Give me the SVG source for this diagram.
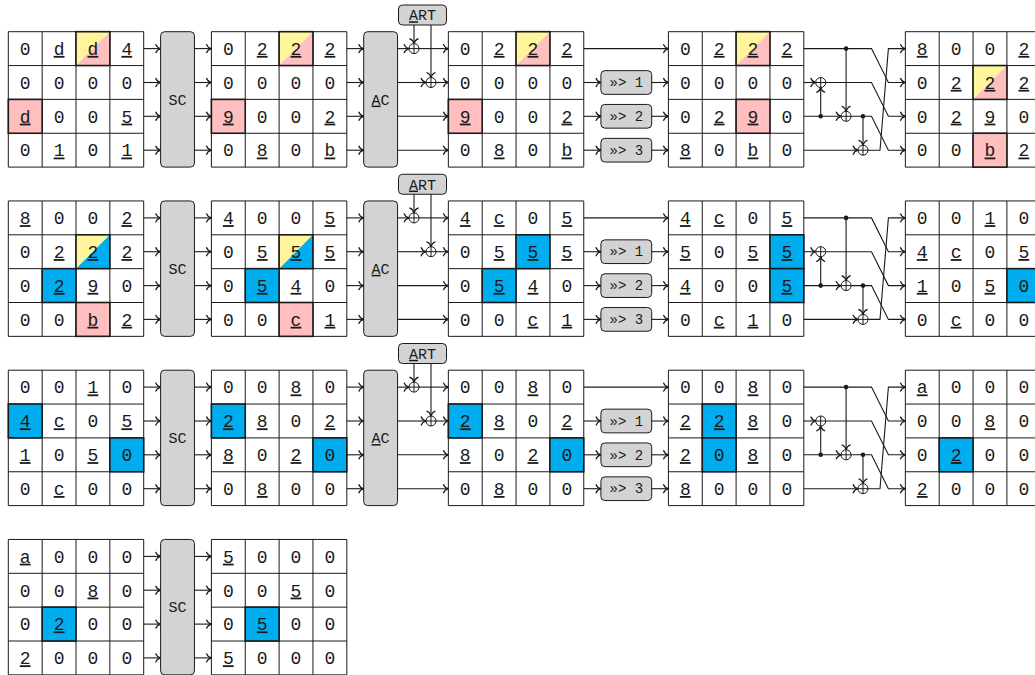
<svg xmlns="http://www.w3.org/2000/svg" xmlns:xlink="http://www.w3.org/1999/xlink" width="1035" height="675" viewBox="0 0 1035 675">
<style>
.m text{font-family:"Liberation Mono","DejaVu Sans Mono",monospace;font-size:18px;text-anchor:middle;fill:#1a1a1a}
.u{text-decoration:underline}
.y{fill:#FFF59D}.p{fill:#FFBFBF}.b{fill:#00AEEF}
.o{stroke:#1a1a1a;stroke-width:1.6}
.box{fill:#D3D3D3;stroke:#1a1a1a;stroke-width:1}
.lbl{font-family:"Liberation Mono","DejaVu Sans Mono",monospace;font-size:15px;text-anchor:middle;fill:#1a1a1a}
.sl{font-family:"Liberation Mono","DejaVu Sans Mono",monospace;font-size:14px;text-anchor:middle;fill:#1a1a1a}
#connectors path{fill:none;stroke:#1a1a1a;stroke-width:1.1;marker-end:url(#a)}
.dot{fill:#1a1a1a}
</style>
<defs>
<marker id="a" markerUnits="userSpaceOnUse" viewBox="-6 -5 7 10" refX="0" refY="0" markerWidth="7" markerHeight="10" orient="auto" overflow="visible">
<path d="M-5,-4.5C-4,-1.6 -1.2,-0.3 0,0C-1.2,0.3 -4,1.6 -5,4.5" fill="none" stroke="#1a1a1a" stroke-width="1.2"/>
</marker>
<path id="grid" d="M0,0H135.4V135.4H0ZM33.85,0V135.4M67.7,0V135.4M101.55,0V135.4M0,33.85H135.4M0,67.7H135.4M0,101.55H135.4" fill="none" stroke="#1a1a1a" stroke-width="1"/>
<g id="xor"><circle r="5" fill="#fff" stroke="#1a1a1a" stroke-width="1"/><path d="M-5,0H5M0,-5V5" stroke="#1a1a1a" stroke-width="1"/></g>
</defs>
<rect width="1035" height="675" fill="#fff"/>

<!-- ===== Block 1 ===== -->
<g id="b1m1" class="m" transform="translate(8.3,31.7)">
<rect width="135.4" height="135.4" fill="#fff"/><use href="#grid"/>
<polygon class="y" points="67.7,0 101.55,0 67.7,33.85"/><polygon class="p" points="101.55,0 101.55,33.85 67.7,33.85"/><rect class="o" fill="none" x="67.7" y="0" width="33.85" height="33.85"/>
<rect class="p o" x="0" y="67.7" width="33.85" height="33.85"/>
<text x="16.9" y="23.2">0</text><text x="50.8" y="23.2" class="u">d</text><text x="84.6" y="23.2" class="u">d</text><text x="118.5" y="23.2" class="u">4</text>
<text x="16.9" y="57.1">0</text><text x="50.8" y="57.1">0</text><text x="84.6" y="57.1">0</text><text x="118.5" y="57.1">0</text>
<text x="16.9" y="90.9" class="u">d</text><text x="50.8" y="90.9">0</text><text x="84.6" y="90.9">0</text><text x="118.5" y="90.9" class="u">5</text>
<text x="16.9" y="124.8">0</text><text x="50.8" y="124.8" class="u">1</text><text x="84.6" y="124.8">0</text><text x="118.5" y="124.8" class="u">1</text>
</g>
<g id="b1sc"><rect class="box" x="160.6" y="31.7" width="33.85" height="135.4" rx="4"/><text class="lbl" x="177.5" y="104.6">SC</text></g>
<g id="b1m2" class="m" transform="translate(211.4,31.7)">
<rect width="135.4" height="135.4" fill="#fff"/><use href="#grid"/>
<polygon class="y" points="67.7,0 101.55,0 67.7,33.85"/><polygon class="p" points="101.55,0 101.55,33.85 67.7,33.85"/><rect class="o" fill="none" x="67.7" y="0" width="33.85" height="33.85"/>
<rect class="p o" x="0" y="67.7" width="33.85" height="33.85"/>
<text x="16.9" y="23.2">0</text><text x="50.8" y="23.2" class="u">2</text><text x="84.6" y="23.2" class="u">2</text><text x="118.5" y="23.2" class="u">2</text>
<text x="16.9" y="57.1">0</text><text x="50.8" y="57.1">0</text><text x="84.6" y="57.1">0</text><text x="118.5" y="57.1">0</text>
<text x="16.9" y="90.9" class="u">9</text><text x="50.8" y="90.9">0</text><text x="84.6" y="90.9">0</text><text x="118.5" y="90.9" class="u">2</text>
<text x="16.9" y="124.8">0</text><text x="50.8" y="124.8" class="u">8</text><text x="84.6" y="124.8">0</text><text x="118.5" y="124.8" class="u">b</text>
</g>
<g id="b1ac"><rect class="box" x="363.7" y="31.7" width="33.85" height="135.4" rx="4"/><text class="lbl" x="380.6" y="104.6"><tspan class="u">A</tspan>C</text></g>
<g id="b1art"><rect class="box" x="398.5" y="5" width="48" height="20" rx="4"/><text class="lbl" x="422.5" y="20.3"><tspan class="u">A</tspan>RT</text></g>
<g id="b1m3" class="m" transform="translate(448.35,31.7)">
<rect width="135.4" height="135.4" fill="#fff"/><use href="#grid"/>
<polygon class="y" points="67.7,0 101.55,0 67.7,33.85"/><polygon class="p" points="101.55,0 101.55,33.85 67.7,33.85"/><rect class="o" fill="none" x="67.7" y="0" width="33.85" height="33.85"/>
<rect class="p o" x="0" y="67.7" width="33.85" height="33.85"/>
<text x="16.9" y="23.2">0</text><text x="50.8" y="23.2" class="u">2</text><text x="84.6" y="23.2" class="u">2</text><text x="118.5" y="23.2" class="u">2</text>
<text x="16.9" y="57.1">0</text><text x="50.8" y="57.1">0</text><text x="84.6" y="57.1">0</text><text x="118.5" y="57.1">0</text>
<text x="16.9" y="90.9" class="u">9</text><text x="50.8" y="90.9">0</text><text x="84.6" y="90.9">0</text><text x="118.5" y="90.9" class="u">2</text>
<text x="16.9" y="124.8">0</text><text x="50.8" y="124.8" class="u">8</text><text x="84.6" y="124.8">0</text><text x="118.5" y="124.8" class="u">b</text>
</g>
<g id="b1s1"><rect class="box" x="600.9" y="70.65" width="50.8" height="23.7" rx="4"/><text class="sl" x="626.3" y="87.2">»&gt; 1</text></g>
<g id="b1s2"><rect class="box" x="600.9" y="104.45" width="50.8" height="23.7" rx="4"/><text class="sl" x="626.3" y="121">»&gt; 2</text></g>
<g id="b1s3"><rect class="box" x="600.9" y="138.35" width="50.8" height="23.7" rx="4"/><text class="sl" x="626.3" y="154.9">»&gt; 3</text></g>
<g id="b1m4" class="m" transform="translate(668.4,31.7)">
<rect width="135.4" height="135.4" fill="#fff"/><use href="#grid"/>
<polygon class="y" points="67.7,0 101.55,0 67.7,33.85"/><polygon class="p" points="101.55,0 101.55,33.85 67.7,33.85"/><rect class="o" fill="none" x="67.7" y="0" width="33.85" height="33.85"/>
<rect class="p o" x="67.7" y="67.7" width="33.85" height="33.85"/>
<text x="16.9" y="23.2">0</text><text x="50.8" y="23.2" class="u">2</text><text x="84.6" y="23.2" class="u">2</text><text x="118.5" y="23.2" class="u">2</text>
<text x="16.9" y="57.1">0</text><text x="50.8" y="57.1">0</text><text x="84.6" y="57.1">0</text><text x="118.5" y="57.1">0</text>
<text x="16.9" y="90.9">0</text><text x="50.8" y="90.9" class="u">2</text><text x="84.6" y="90.9" class="u">9</text><text x="118.5" y="90.9">0</text>
<text x="16.9" y="124.8" class="u">8</text><text x="50.8" y="124.8">0</text><text x="84.6" y="124.8" class="u">b</text><text x="118.5" y="124.8">0</text>
</g>
<g id="b1m5" class="m" transform="translate(905.35,31.7)">
<rect width="135.4" height="135.4" fill="#fff"/><use href="#grid"/>
<polygon class="y" points="67.7,33.85 101.55,33.85 67.7,67.7"/><polygon class="p" points="101.55,33.85 101.55,67.7 67.7,67.7"/><rect class="o" fill="none" x="67.7" y="33.85" width="33.85" height="33.85"/>
<rect class="p o" x="67.7" y="101.55" width="33.85" height="33.85"/>
<text x="16.9" y="23.2" class="u">8</text><text x="50.8" y="23.2">0</text><text x="84.6" y="23.2">0</text><text x="118.5" y="23.2" class="u">2</text>
<text x="16.9" y="57.1">0</text><text x="50.8" y="57.1" class="u">2</text><text x="84.6" y="57.1" class="u">2</text><text x="118.5" y="57.1" class="u">2</text>
<text x="16.9" y="90.9">0</text><text x="50.8" y="90.9" class="u">2</text><text x="84.6" y="90.9" class="u">9</text><text x="118.5" y="90.9">0</text>
<text x="16.9" y="124.8">0</text><text x="50.8" y="124.8">0</text><text x="84.6" y="124.8" class="u">b</text><text x="118.5" y="124.8" class="u">2</text>
</g>

<!-- ===== Block 2 ===== -->
<g id="b2m1" class="m" transform="translate(8.3,200.95)">
<rect width="135.4" height="135.4" fill="#fff"/><use href="#grid"/>
<polygon class="y" points="67.7,33.85 101.55,33.85 67.7,67.7"/><polygon class="b" points="101.55,33.85 101.55,67.7 67.7,67.7"/><rect class="o" fill="none" x="67.7" y="33.85" width="33.85" height="33.85"/>
<rect class="b o" x="33.85" y="67.7" width="33.85" height="33.85"/>
<rect class="p o" x="67.7" y="101.55" width="33.85" height="33.85"/>
<text x="16.9" y="23.2" class="u">8</text><text x="50.8" y="23.2">0</text><text x="84.6" y="23.2">0</text><text x="118.5" y="23.2" class="u">2</text>
<text x="16.9" y="57.1">0</text><text x="50.8" y="57.1" class="u">2</text><text x="84.6" y="57.1" class="u">2</text><text x="118.5" y="57.1" class="u">2</text>
<text x="16.9" y="90.9">0</text><text x="50.8" y="90.9" class="u">2</text><text x="84.6" y="90.9" class="u">9</text><text x="118.5" y="90.9">0</text>
<text x="16.9" y="124.8">0</text><text x="50.8" y="124.8">0</text><text x="84.6" y="124.8" class="u">b</text><text x="118.5" y="124.8" class="u">2</text>
</g>
<g id="b2sc"><rect class="box" x="160.6" y="200.95" width="33.85" height="135.4" rx="4"/><text class="lbl" x="177.5" y="273.85">SC</text></g>
<g id="b2m2" class="m" transform="translate(211.4,200.95)">
<rect width="135.4" height="135.4" fill="#fff"/><use href="#grid"/>
<polygon class="y" points="67.7,33.85 101.55,33.85 67.7,67.7"/><polygon class="b" points="101.55,33.85 101.55,67.7 67.7,67.7"/><rect class="o" fill="none" x="67.7" y="33.85" width="33.85" height="33.85"/>
<rect class="b o" x="33.85" y="67.7" width="33.85" height="33.85"/>
<rect class="p o" x="67.7" y="101.55" width="33.85" height="33.85"/>
<text x="16.9" y="23.2" class="u">4</text><text x="50.8" y="23.2">0</text><text x="84.6" y="23.2">0</text><text x="118.5" y="23.2" class="u">5</text>
<text x="16.9" y="57.1">0</text><text x="50.8" y="57.1" class="u">5</text><text x="84.6" y="57.1" class="u">5</text><text x="118.5" y="57.1" class="u">5</text>
<text x="16.9" y="90.9">0</text><text x="50.8" y="90.9" class="u">5</text><text x="84.6" y="90.9" class="u">4</text><text x="118.5" y="90.9">0</text>
<text x="16.9" y="124.8">0</text><text x="50.8" y="124.8">0</text><text x="84.6" y="124.8" class="u">c</text><text x="118.5" y="124.8" class="u">1</text>
</g>
<g id="b2ac"><rect class="box" x="363.7" y="200.95" width="33.85" height="135.4" rx="4"/><text class="lbl" x="380.6" y="273.85"><tspan class="u">A</tspan>C</text></g>
<g id="b2art"><rect class="box" x="398.5" y="174.25" width="48" height="20" rx="4"/><text class="lbl" x="422.5" y="189.55"><tspan class="u">A</tspan>RT</text></g>
<g id="b2m3" class="m" transform="translate(448.35,200.95)">
<rect width="135.4" height="135.4" fill="#fff"/><use href="#grid"/>
<rect class="b o" x="67.7" y="33.85" width="33.85" height="33.85"/>
<rect class="b o" x="33.85" y="67.7" width="33.85" height="33.85"/>
<text x="16.9" y="23.2" class="u">4</text><text x="50.8" y="23.2" class="u">c</text><text x="84.6" y="23.2">0</text><text x="118.5" y="23.2" class="u">5</text>
<text x="16.9" y="57.1">0</text><text x="50.8" y="57.1" class="u">5</text><text x="84.6" y="57.1" class="u">5</text><text x="118.5" y="57.1" class="u">5</text>
<text x="16.9" y="90.9">0</text><text x="50.8" y="90.9" class="u">5</text><text x="84.6" y="90.9" class="u">4</text><text x="118.5" y="90.9">0</text>
<text x="16.9" y="124.8">0</text><text x="50.8" y="124.8">0</text><text x="84.6" y="124.8" class="u">c</text><text x="118.5" y="124.8" class="u">1</text>
</g>
<g id="b2s1"><rect class="box" x="600.9" y="239.85" width="50.8" height="23.7" rx="4"/><text class="sl" x="626.3" y="256.4">»&gt; 1</text></g>
<g id="b2s2"><rect class="box" x="600.9" y="273.75" width="50.8" height="23.7" rx="4"/><text class="sl" x="626.3" y="290.3">»&gt; 2</text></g>
<g id="b2s3"><rect class="box" x="600.9" y="307.55" width="50.8" height="23.7" rx="4"/><text class="sl" x="626.3" y="324.1">»&gt; 3</text></g>
<g id="b2m4" class="m" transform="translate(668.4,200.95)">
<rect width="135.4" height="135.4" fill="#fff"/><use href="#grid"/>
<rect class="b o" x="101.55" y="33.85" width="33.85" height="33.85"/>
<rect class="b o" x="101.55" y="67.7" width="33.85" height="33.85"/>
<text x="16.9" y="23.2" class="u">4</text><text x="50.8" y="23.2" class="u">c</text><text x="84.6" y="23.2">0</text><text x="118.5" y="23.2" class="u">5</text>
<text x="16.9" y="57.1" class="u">5</text><text x="50.8" y="57.1">0</text><text x="84.6" y="57.1" class="u">5</text><text x="118.5" y="57.1" class="u">5</text>
<text x="16.9" y="90.9" class="u">4</text><text x="50.8" y="90.9">0</text><text x="84.6" y="90.9">0</text><text x="118.5" y="90.9" class="u">5</text>
<text x="16.9" y="124.8">0</text><text x="50.8" y="124.8" class="u">c</text><text x="84.6" y="124.8" class="u">1</text><text x="118.5" y="124.8">0</text>
</g>
<g id="b2m5" class="m" transform="translate(905.35,200.95)">
<rect width="135.4" height="135.4" fill="#fff"/><use href="#grid"/>
<rect class="b o" x="101.55" y="67.7" width="33.85" height="33.85"/>
<text x="16.9" y="23.2">0</text><text x="50.8" y="23.2">0</text><text x="84.6" y="23.2" class="u">1</text><text x="118.5" y="23.2">0</text>
<text x="16.9" y="57.1" class="u">4</text><text x="50.8" y="57.1" class="u">c</text><text x="84.6" y="57.1">0</text><text x="118.5" y="57.1" class="u">5</text>
<text x="16.9" y="90.9" class="u">1</text><text x="50.8" y="90.9">0</text><text x="84.6" y="90.9" class="u">5</text><text x="118.5" y="90.9">0</text>
<text x="16.9" y="124.8">0</text><text x="50.8" y="124.8" class="u">c</text><text x="84.6" y="124.8">0</text><text x="118.5" y="124.8">0</text>
</g>

<!-- ===== Block 3 ===== -->
<g id="b3m1" class="m" transform="translate(8.3,370.2)">
<rect width="135.4" height="135.4" fill="#fff"/><use href="#grid"/>
<rect class="b o" x="0" y="33.85" width="33.85" height="33.85"/>
<rect class="b o" x="101.55" y="67.7" width="33.85" height="33.85"/>
<text x="16.9" y="23.2">0</text><text x="50.8" y="23.2">0</text><text x="84.6" y="23.2" class="u">1</text><text x="118.5" y="23.2">0</text>
<text x="16.9" y="57.1" class="u">4</text><text x="50.8" y="57.1" class="u">c</text><text x="84.6" y="57.1">0</text><text x="118.5" y="57.1" class="u">5</text>
<text x="16.9" y="90.9" class="u">1</text><text x="50.8" y="90.9">0</text><text x="84.6" y="90.9" class="u">5</text><text x="118.5" y="90.9">0</text>
<text x="16.9" y="124.8">0</text><text x="50.8" y="124.8" class="u">c</text><text x="84.6" y="124.8">0</text><text x="118.5" y="124.8">0</text>
</g>
<g id="b3sc"><rect class="box" x="160.6" y="370.2" width="33.85" height="135.4" rx="4"/><text class="lbl" x="177.5" y="443.1">SC</text></g>
<g id="b3m2" class="m" transform="translate(211.4,370.2)">
<rect width="135.4" height="135.4" fill="#fff"/><use href="#grid"/>
<rect class="b o" x="0" y="33.85" width="33.85" height="33.85"/>
<rect class="b o" x="101.55" y="67.7" width="33.85" height="33.85"/>
<text x="16.9" y="23.2">0</text><text x="50.8" y="23.2">0</text><text x="84.6" y="23.2" class="u">8</text><text x="118.5" y="23.2">0</text>
<text x="16.9" y="57.1" class="u">2</text><text x="50.8" y="57.1" class="u">8</text><text x="84.6" y="57.1">0</text><text x="118.5" y="57.1" class="u">2</text>
<text x="16.9" y="90.9" class="u">8</text><text x="50.8" y="90.9">0</text><text x="84.6" y="90.9" class="u">2</text><text x="118.5" y="90.9">0</text>
<text x="16.9" y="124.8">0</text><text x="50.8" y="124.8" class="u">8</text><text x="84.6" y="124.8">0</text><text x="118.5" y="124.8">0</text>
</g>
<g id="b3ac"><rect class="box" x="363.7" y="370.2" width="33.85" height="135.4" rx="4"/><text class="lbl" x="380.6" y="443.1"><tspan class="u">A</tspan>C</text></g>
<g id="b3art"><rect class="box" x="398.5" y="343.5" width="48" height="20" rx="4"/><text class="lbl" x="422.5" y="358.8"><tspan class="u">A</tspan>RT</text></g>
<g id="b3m3" class="m" transform="translate(448.35,370.2)">
<rect width="135.4" height="135.4" fill="#fff"/><use href="#grid"/>
<rect class="b o" x="0" y="33.85" width="33.85" height="33.85"/>
<rect class="b o" x="101.55" y="67.7" width="33.85" height="33.85"/>
<text x="16.9" y="23.2">0</text><text x="50.8" y="23.2">0</text><text x="84.6" y="23.2" class="u">8</text><text x="118.5" y="23.2">0</text>
<text x="16.9" y="57.1" class="u">2</text><text x="50.8" y="57.1" class="u">8</text><text x="84.6" y="57.1">0</text><text x="118.5" y="57.1" class="u">2</text>
<text x="16.9" y="90.9" class="u">8</text><text x="50.8" y="90.9">0</text><text x="84.6" y="90.9" class="u">2</text><text x="118.5" y="90.9">0</text>
<text x="16.9" y="124.8">0</text><text x="50.8" y="124.8" class="u">8</text><text x="84.6" y="124.8">0</text><text x="118.5" y="124.8">0</text>
</g>
<g id="b3s1"><rect class="box" x="600.9" y="409.15" width="50.8" height="23.7" rx="4"/><text class="sl" x="626.3" y="425.7">»&gt; 1</text></g>
<g id="b3s2"><rect class="box" x="600.9" y="442.95" width="50.8" height="23.7" rx="4"/><text class="sl" x="626.3" y="459.5">»&gt; 2</text></g>
<g id="b3s3"><rect class="box" x="600.9" y="476.85" width="50.8" height="23.7" rx="4"/><text class="sl" x="626.3" y="493.4">»&gt; 3</text></g>
<g id="b3m4" class="m" transform="translate(668.4,370.2)">
<rect width="135.4" height="135.4" fill="#fff"/><use href="#grid"/>
<rect class="b o" x="33.85" y="33.85" width="33.85" height="33.85"/>
<rect class="b o" x="33.85" y="67.7" width="33.85" height="33.85"/>
<text x="16.9" y="23.2">0</text><text x="50.8" y="23.2">0</text><text x="84.6" y="23.2" class="u">8</text><text x="118.5" y="23.2">0</text>
<text x="16.9" y="57.1" class="u">2</text><text x="50.8" y="57.1" class="u">2</text><text x="84.6" y="57.1" class="u">8</text><text x="118.5" y="57.1">0</text>
<text x="16.9" y="90.9" class="u">2</text><text x="50.8" y="90.9">0</text><text x="84.6" y="90.9" class="u">8</text><text x="118.5" y="90.9">0</text>
<text x="16.9" y="124.8" class="u">8</text><text x="50.8" y="124.8">0</text><text x="84.6" y="124.8">0</text><text x="118.5" y="124.8">0</text>
</g>
<g id="b3m5" class="m" transform="translate(905.35,370.2)">
<rect width="135.4" height="135.4" fill="#fff"/><use href="#grid"/>
<rect class="b o" x="33.85" y="67.7" width="33.85" height="33.85"/>
<text x="16.9" y="23.2" class="u">a</text><text x="50.8" y="23.2">0</text><text x="84.6" y="23.2">0</text><text x="118.5" y="23.2">0</text>
<text x="16.9" y="57.1">0</text><text x="50.8" y="57.1">0</text><text x="84.6" y="57.1" class="u">8</text><text x="118.5" y="57.1">0</text>
<text x="16.9" y="90.9">0</text><text x="50.8" y="90.9" class="u">2</text><text x="84.6" y="90.9">0</text><text x="118.5" y="90.9">0</text>
<text x="16.9" y="124.8" class="u">2</text><text x="50.8" y="124.8">0</text><text x="84.6" y="124.8">0</text><text x="118.5" y="124.8">0</text>
</g>

<!-- ===== Block 4 ===== -->
<g id="b4m1" class="m" transform="translate(8.3,539.45)">
<rect width="135.4" height="135.4" fill="#fff"/><use href="#grid"/>
<rect class="b o" x="33.85" y="67.7" width="33.85" height="33.85"/>
<text x="16.9" y="23.2" class="u">a</text><text x="50.8" y="23.2">0</text><text x="84.6" y="23.2">0</text><text x="118.5" y="23.2">0</text>
<text x="16.9" y="57.1">0</text><text x="50.8" y="57.1">0</text><text x="84.6" y="57.1" class="u">8</text><text x="118.5" y="57.1">0</text>
<text x="16.9" y="90.9">0</text><text x="50.8" y="90.9" class="u">2</text><text x="84.6" y="90.9">0</text><text x="118.5" y="90.9">0</text>
<text x="16.9" y="124.8" class="u">2</text><text x="50.8" y="124.8">0</text><text x="84.6" y="124.8">0</text><text x="118.5" y="124.8">0</text>
</g>
<g id="b4sc"><rect class="box" x="160.6" y="539.45" width="33.85" height="135.4" rx="4"/><text class="lbl" x="177.5" y="612.35">SC</text></g>
<g id="b4m2" class="m" transform="translate(211.4,539.45)">
<rect width="135.4" height="135.4" fill="#fff"/><use href="#grid"/>
<rect class="b o" x="33.85" y="67.7" width="33.85" height="33.85"/>
<text x="16.9" y="23.2" class="u">5</text><text x="50.8" y="23.2">0</text><text x="84.6" y="23.2">0</text><text x="118.5" y="23.2">0</text>
<text x="16.9" y="57.1">0</text><text x="50.8" y="57.1">0</text><text x="84.6" y="57.1" class="u">5</text><text x="118.5" y="57.1">0</text>
<text x="16.9" y="90.9">0</text><text x="50.8" y="90.9" class="u">5</text><text x="84.6" y="90.9">0</text><text x="118.5" y="90.9">0</text>
<text x="16.9" y="124.8" class="u">5</text><text x="50.8" y="124.8">0</text><text x="84.6" y="124.8">0</text><text x="118.5" y="124.8">0</text>
</g>

<!-- ===== Connectors ===== -->
<g id="connectors">
<!-- block 1 -->
<path d="M143.7,48.6H160.6"/><path d="M143.7,82.5H160.6"/><path d="M143.7,116.3H160.6"/><path d="M143.7,150.2H160.6"/>
<path d="M194.45,48.6H211.4"/><path d="M194.45,82.5H211.4"/><path d="M194.45,116.3H211.4"/><path d="M194.45,150.2H211.4"/>
<path d="M346.8,48.6H363.7"/><path d="M346.8,82.5H363.7"/><path d="M346.8,116.3H363.7"/><path d="M346.8,150.2H363.7"/>
<path d="M397.55,48.6H409"/><path d="M419,48.6H448.35"/>
<path d="M397.55,82.5H426"/><path d="M436,82.5H448.35"/>
<path d="M397.55,116.3H448.35"/><path d="M397.55,150.2H448.35"/>
<path d="M414,25V43.6"/><path d="M431,25V77.5"/>
<path d="M583.75,48.6H668.4"/>
<path d="M583.75,82.5H600.9"/><path d="M651.7,82.5H668.4"/>
<path d="M583.75,116.3H600.9"/><path d="M651.7,116.3H668.4"/>
<path d="M583.75,150.2H600.9"/><path d="M651.7,150.2H668.4"/>
<path d="M803.8,48.6H871.5L888.4,82.5H905.35"/>
<path d="M846.1,48.6V111.3"/>
<path d="M803.8,82.5H815.7"/>
<path d="M825.7,82.5H871.5L888.4,116.3H905.35"/>
<path d="M803.8,116.3H841.1"/>
<path d="M820.7,116.3V87.5"/>
<path d="M851.1,116.3H871.5L888.4,150.2H905.35"/>
<path d="M863,116.3V145.2"/>
<path d="M803.8,150.2H858"/>
<path d="M868,150.2H880L888.4,48.6H905.35"/>
<use href="#xor" x="414" y="48.6"/><use href="#xor" x="431" y="82.5"/>
<use href="#xor" x="820.7" y="82.5"/><use href="#xor" x="846.1" y="116.3"/><use href="#xor" x="863" y="150.2"/>
<circle class="dot" cx="846.1" cy="48.6" r="2.3"/><circle class="dot" cx="820.7" cy="116.3" r="2.3"/><circle class="dot" cx="863" cy="116.3" r="2.3"/>
<!-- block 2 -->
<path d="M143.7,217.9H160.6"/><path d="M143.7,251.7H160.6"/><path d="M143.7,285.6H160.6"/><path d="M143.7,319.4H160.6"/>
<path d="M194.45,217.9H211.4"/><path d="M194.45,251.7H211.4"/><path d="M194.45,285.6H211.4"/><path d="M194.45,319.4H211.4"/>
<path d="M346.8,217.9H363.7"/><path d="M346.8,251.7H363.7"/><path d="M346.8,285.6H363.7"/><path d="M346.8,319.4H363.7"/>
<path d="M397.55,217.9H409"/><path d="M419,217.9H448.35"/>
<path d="M397.55,251.7H426"/><path d="M436,251.7H448.35"/>
<path d="M397.55,285.6H448.35"/><path d="M397.55,319.4H448.35"/>
<path d="M414,194.25V212.9"/><path d="M431,194.25V246.7"/>
<path d="M583.75,217.9H668.4"/>
<path d="M583.75,251.7H600.9"/><path d="M651.7,251.7H668.4"/>
<path d="M583.75,285.6H600.9"/><path d="M651.7,285.6H668.4"/>
<path d="M583.75,319.4H600.9"/><path d="M651.7,319.4H668.4"/>
<path d="M803.8,217.9H871.5L888.4,251.7H905.35"/>
<path d="M846.1,217.9V280.6"/>
<path d="M803.8,251.7H815.7"/>
<path d="M825.7,251.7H871.5L888.4,285.6H905.35"/>
<path d="M803.8,285.6H841.1"/>
<path d="M820.7,285.6V256.7"/>
<path d="M851.1,285.6H871.5L888.4,319.4H905.35"/>
<path d="M863,285.6V314.4"/>
<path d="M803.8,319.4H858"/>
<path d="M868,319.4H880L888.4,217.9H905.35"/>
<use href="#xor" x="414" y="217.9"/><use href="#xor" x="431" y="251.7"/>
<use href="#xor" x="820.7" y="251.7"/><use href="#xor" x="846.1" y="285.6"/><use href="#xor" x="863" y="319.4"/>
<circle class="dot" cx="846.1" cy="217.9" r="2.3"/><circle class="dot" cx="820.7" cy="285.6" r="2.3"/><circle class="dot" cx="863" cy="285.6" r="2.3"/>
<!-- block 3 -->
<path d="M143.7,387.1H160.6"/><path d="M143.7,421H160.6"/><path d="M143.7,454.8H160.6"/><path d="M143.7,488.7H160.6"/>
<path d="M194.45,387.1H211.4"/><path d="M194.45,421H211.4"/><path d="M194.45,454.8H211.4"/><path d="M194.45,488.7H211.4"/>
<path d="M346.8,387.1H363.7"/><path d="M346.8,421H363.7"/><path d="M346.8,454.8H363.7"/><path d="M346.8,488.7H363.7"/>
<path d="M397.55,387.1H409"/><path d="M419,387.1H448.35"/>
<path d="M397.55,421H426"/><path d="M436,421H448.35"/>
<path d="M397.55,454.8H448.35"/><path d="M397.55,488.7H448.35"/>
<path d="M414,363.5V382.1"/><path d="M431,363.5V416"/>
<path d="M583.75,387.1H668.4"/>
<path d="M583.75,421H600.9"/><path d="M651.7,421H668.4"/>
<path d="M583.75,454.8H600.9"/><path d="M651.7,454.8H668.4"/>
<path d="M583.75,488.7H600.9"/><path d="M651.7,488.7H668.4"/>
<path d="M803.8,387.1H871.5L888.4,421H905.35"/>
<path d="M846.1,387.1V449.8"/>
<path d="M803.8,421H815.7"/>
<path d="M825.7,421H871.5L888.4,454.8H905.35"/>
<path d="M803.8,454.8H841.1"/>
<path d="M820.7,454.8V426"/>
<path d="M851.1,454.8H871.5L888.4,488.7H905.35"/>
<path d="M863,454.8V483.7"/>
<path d="M803.8,488.7H858"/>
<path d="M868,488.7H880L888.4,387.1H905.35"/>
<use href="#xor" x="414" y="387.1"/><use href="#xor" x="431" y="421"/>
<use href="#xor" x="820.7" y="421"/><use href="#xor" x="846.1" y="454.8"/><use href="#xor" x="863" y="488.7"/>
<circle class="dot" cx="846.1" cy="387.1" r="2.3"/><circle class="dot" cx="820.7" cy="454.8" r="2.3"/><circle class="dot" cx="863" cy="454.8" r="2.3"/>
<!-- block 4 -->
<path d="M143.7,556.4H160.6"/><path d="M143.7,590.2H160.6"/><path d="M143.7,624.1H160.6"/><path d="M143.7,657.9H160.6"/>
<path d="M194.45,556.4H211.4"/><path d="M194.45,590.2H211.4"/><path d="M194.45,624.1H211.4"/><path d="M194.45,657.9H211.4"/>
</g>
</svg>
